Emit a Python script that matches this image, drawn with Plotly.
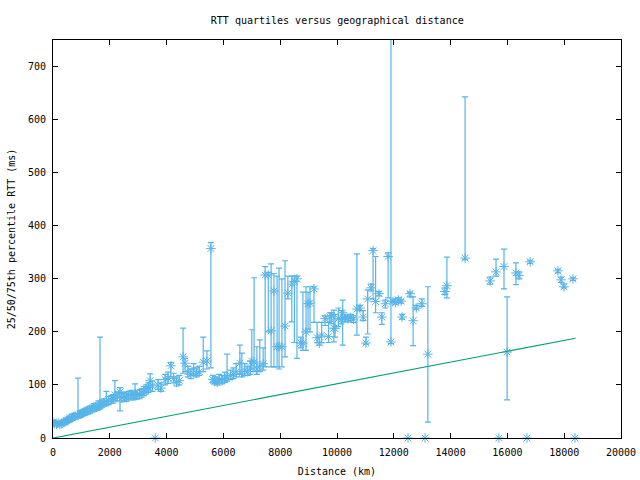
import plotly.graph_objects as go

# Distance (km), 25th / median / 75th percentile RTT (ms)
dist_km = [0, 60, 120, 180, 240, 300, 360, 420, 480, 540, 600, 660, 720, 780, 880, 950,
           1000, 1080, 1150, 1220, 1300, 1380, 1450, 1520, 1600, 1655, 1720, 1800, 1880, 1950,
           2050, 2120, 2180, 2260, 2360, 2420, 2500, 2580, 2650, 2750, 2820, 2890, 2950, 3050,
           3120, 3200, 3280, 3360, 3420, 3500, 3600, 3700, 3800, 3950, 4050, 4150, 4250, 4350,
           4450, 4580, 4650, 4750, 4850, 4950, 5050, 5150, 5290, 5420, 5560, 5630, 5700, 5780,
           5850, 5950, 6050, 6130, 6250, 6350, 6450, 6580, 6650, 6750, 6850, 6950, 7000, 7080,
           7180, 7280, 7400, 7470, 7580, 7680, 7780, 7890, 7960, 8060, 8170, 8270, 8410, 8500,
           8590, 8730, 8800, 8910, 8980, 9050, 9190, 9300, 9380, 9460, 9580, 9700, 9750, 9810,
           9890, 9930, 10050, 10150, 10200, 10280, 10380, 10480, 10580, 10700, 10810, 10920,
           11020, 11080, 11200, 11270, 11360, 11480, 11580, 11700, 11800, 11900, 11970, 12060,
           12160, 12260, 12290, 12500, 12570, 12680, 12790, 12990, 13100, 13200, 13800, 13870,
           14510, 15390, 15600, 15700, 15880, 15990, 16300, 16410, 16690, 16800, 17780, 17890,
           17990, 18310, 18380]
rtt_med = [30, 27, 26, 28, 25, 27, 29, 30, 33, 34, 37, 38, 40, 41, 43, 45,
           46, 48, 50, 51, 53, 55, 57, 58, 61, 62, 64, 66, 69, 70,
           72, 74, 81, 78, 87, 76, 78, 76, 80, 82, 79, 84, 80, 82,
           85, 88, 92, 95, 108, 98, 0, 100, 94, 110, 113, 136, 112, 105,
           108, 153, 141, 125, 120, 130, 122, 125, 143, 145, 357, 110, 107, 105,
           110, 108, 112, 115, 118, 120, 125, 141, 122, 128, 125, 132, 145, 143,
           130, 135, 140, 307, 307, 202, 277, 172, 172, 172, 211, 273, 290, 295,
           300, 179, 179, 200, 253, 254, 281, 189, 179, 194, 225, 191, 228, 230,
           207, 206, 225, 223, 236, 226, 225, 227, 224, 243, 245, 228,
           179, 262, 283, 353, 257, 272, 228, 253, 342, 181, 257, 255,
           260, 258, 228, 0, 272, 221, 245, 253, 0, 158, 276, 287,
           339, 296, 313, 0, 323, 162, 311, 306, 0, 332, 315, 298,
           285, 300, 0]
rtt_q25 = [26, 24, 23, 24, 23, 24, 25, 26, 28, 30, 31, 33, 34, 36, 38, 39,
           40, 42, 44, 45, 47, 49, 50, 52, 53, 55, 58, 60, 61, 63,
           65, 66, 70, 70, 51, 68, 70, 69, 72, 74, 72, 75, 73, 74,
           77, 80, 83, 86, 90, 88, 0, 91, 88, 100, 103, 115, 104, 98,
           100, 122, 125, 115, 112, 118, 115, 118, 125, 130, 132, 104, 102, 100,
           104, 102, 105, 107, 110, 112, 115, 120, 115, 118, 118, 120, 130, 125,
           120, 125, 128, 134, 200, 134, 134, 134, 130, 134, 153, 262, 219, 180,
           150, 170, 165, 165, 205, 200, 218, 180, 175, 180, 212, 180, 220, 215,
           181, 190, 210, 215, 175, 220, 219, 221, 218, 194, 240, 221,
           177, 196, 277, 262, 236, 268, 214, 245, 264, 178, 255, 252,
           256, 254, 224, 0, 266, 174, 243, 248, 0, 30, 270, 264,
           336, 290, 305, 0, 281, 72, 289, 300, 0, 329, 311, 293,
           283, 297, 0]
rtt_q75 = [33, 31, 30, 31, 30, 32, 33, 35, 37, 39, 41, 44, 45, 47, 113, 50,
           52, 54, 56, 58, 60, 62, 65, 66, 70, 190, 72, 74, 88, 78,
           80, 82, 108, 86, 95, 84, 86, 84, 88, 90, 87, 102, 89, 91,
           93, 97, 100, 104, 121, 106, 0, 110, 104, 120, 124, 142, 122, 115,
           118, 207, 150, 135, 130, 140, 132, 135, 190, 164, 368, 118, 115, 113,
           120, 118, 124, 158, 128, 132, 140, 175, 160, 140, 135, 145, 204, 302,
           172, 185, 170, 323, 312, 328, 310, 305, 320, 300, 334, 305, 305, 305,
           305, 190, 275, 285, 275, 285, 285, 218, 190, 218, 230, 218, 236, 236,
           241, 233, 245, 240, 260, 232, 230, 233, 230, 347, 250, 240,
           190, 279, 290, 357, 342, 276, 236, 260, 349, 1000, 260, 262,
           264, 261, 233, 0, 275, 266, 250, 262, 0, 285, 283, 341,
           643, 303, 337, 0, 356, 266, 330, 313, 0, 335, 318, 303,
           290, 302, 0]

# Reference line (propagation bound)
line_x = [0, 18400]
line_y = [0, 188]

x_ticks = [0, 2000, 4000, 6000, 8000, 10000, 12000, 14000, 16000, 18000, 20000]
y_ticks = [0, 100, 200, 300, 400, 500, 600, 700]

BLUE = "#56b4e9"
GREEN = "#009e73"

nz = [i for i, m in enumerate(rtt_med) if m > 0]
zr = [i for i, m in enumerate(rtt_med) if m == 0]

fig = go.Figure()
fig.add_trace(go.Scatter(
    x=[dist_km[i] for i in nz], y=[rtt_med[i] for i in nz], mode="markers",
    marker=dict(symbol="asterisk-open", size=8, color=BLUE, line=dict(color=BLUE, width=1)),
    error_y=dict(type="data", symmetric=False,
                 array=[rtt_q75[i] - rtt_med[i] for i in nz],
                 arrayminus=[rtt_med[i] - rtt_q25[i] for i in nz],
                 color=BLUE, thickness=1.2, width=3),
    showlegend=False, cliponaxis=True))
fig.add_trace(go.Scatter(
    x=[dist_km[i] for i in zr], y=[rtt_med[i] for i in zr], mode="markers",
    marker=dict(symbol="asterisk-open", size=8, color=BLUE, line=dict(color=BLUE, width=1)),
    showlegend=False, cliponaxis=False))
fig.add_trace(go.Scatter(x=line_x, y=line_y, mode="lines",
                         line=dict(color=GREEN, width=1.2), showlegend=False))

font = dict(family="DejaVu Sans Mono", size=10, color="black")
axis_common = dict(showgrid=False, zeroline=False, showline=True, linecolor="black",
                   linewidth=1, mirror="allticks", ticks="inside", ticklen=5,
                   tickcolor="black", tickfont=font, automargin=False)
fig.update_layout(
    template="none",
    width=640, height=480,
    margin=dict(l=53, r=19, t=40, b=42),
    paper_bgcolor="white", plot_bgcolor="white",
    font=font,
    title=dict(text="RTT quartiles versus geographical distance", x=0.527, xanchor="center",
               y=1 - 20 / 480, yanchor="middle", yref="container", font=font),
    xaxis=dict(range=[0, 20000], tickvals=x_ticks, ticktext=[str(v) for v in x_ticks],
               ticklabelstandoff=5,
               title=dict(text="Distance (km)", font=font, standoff=10), **axis_common),
    yaxis=dict(range=[0, 750], tickvals=y_ticks, ticktext=[str(v) for v in y_ticks],
               ticklabelstandoff=4,
               title=dict(text="25/50/75th percentile RTT (ms)", font=font, standoff=10),
               **axis_common),
)
fig.write_html("out.html")
